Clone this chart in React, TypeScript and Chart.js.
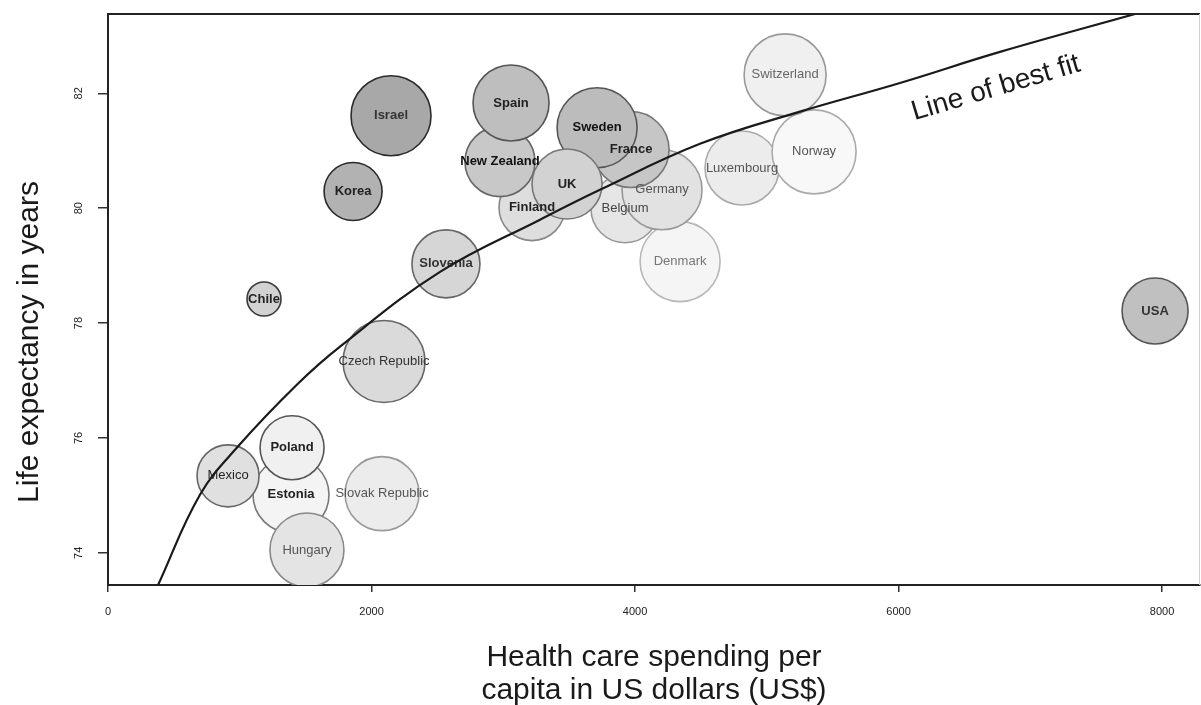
import React, { useEffect, useRef } from "react";
import { Chart, registerables } from "chart.js";

Chart.register(...registerables);

// ---- Data ----
const countries = [
  "Denmark", "Belgium", "Finland", "Germany", "Luxembourg", "Norway", "Switzerland",
  "France", "Sweden", "New Zealand", "Spain", "UK", "Israel", "Korea", "Slovenia",
  "Chile", "Czech Republic", "Slovak Republic", "Estonia", "Hungary", "Poland", "Mexico", "USA",
];
const spending = [
  4342, 3924, 3218, 4205, 4812, 5359, 5139,
  3970, 3712, 2975, 3059, 3484, 2148, 1860, 2565,
  1184, 2095, 2080, 1389, 1510, 1397, 911, 7947,
];
const lifeExpectancy = [
  79.07, 79.99, 80.01, 80.32, 80.70, 80.98, 82.32,
  81.02, 81.40, 80.81, 81.83, 80.42, 81.61, 80.29, 79.03,
  78.42, 77.33, 75.03, 75.01, 74.05, 75.83, 75.34, 78.21,
];
const bubbleSize = [
  40, 34, 33, 40, 37, 42, 41,
  38, 40, 35, 38, 35, 40, 29, 34,
  17, 41, 37, 38, 37, 32, 31, 33,
];

// line of best fit
const fitSpending = [380, 698, 986, 1435, 1761, 2520, 3279, 3734, 4493, 5252, 6011, 6770, 7795];
const fitLife = [73.44, 75.01, 75.85, 76.93, 77.59, 78.89, 79.8, 80.32, 81.12, 81.68, 82.18, 82.72, 83.38];

const xTicks = [0, 2000, 4000, 6000, 8000];
const yTicks = [74, 76, 78, 80, 82];

const xTitle = ["Health care spending per", "capita in US dollars (US$)"];
const yTitle = "Life expectancy in years";
const fitLabel = "Line of best fit";

// ---- Styles ----
const fills = [
  "#f5f5f5", "#e6e6e6", "#dedede", "#e2e2e2", "#ececec", "#f8f8f8", "#f0f0f0",
  "#c6c6c6", "#bcbcbc", "#c8c8c8", "#bebebe", "#d2d2d2", "#a8a8a8", "#b2b2b2", "#d6d6d6",
  "#d2d2d2", "#dadada", "#ececec", "#f4f4f4", "#e4e4e4", "#f0f0f0", "#e0e0e0", "#c0c0c0",
];
const borders = [
  "#b8b8b8", "#999999", "#888888", "#999999", "#aaaaaa", "#aaaaaa", "#999999",
  "#777777", "#555555", "#666666", "#555555", "#777777", "#2a2a2a", "#2a2a2a", "#666666",
  "#3a3a3a", "#666666", "#999999", "#777777", "#888888", "#555555", "#666666", "#555555",
];
const labelColors = [
  "#777777", "#444444", "#222222", "#555555", "#555555", "#555555", "#666666",
  "#222222", "#111111", "#111111", "#222222", "#222222", "#333333", "#222222", "#333333",
  "#222222", "#333333", "#555555", "#222222", "#555555", "#222222", "#222222", "#333333",
];
const labelBold = [
  false, false, true, false, false, false, false,
  true, true, true, true, true, true, true, true,
  true, false, false, true, false, true, false, true,
];

const FONT = '"Liberation Sans", Arial, sans-serif';

const annotationPlugin = {
  id: "annotations",
  afterDatasetDraw(chart: any, args: any) {
    if (args.index !== 1) return;
    const ctx = chart.ctx;
    args.meta.data.forEach((el: any, i: number) => {
      ctx.save();
      ctx.font = `${labelBold[i] ? "bold " : ""}13px ${FONT}`;
      ctx.fillStyle = labelColors[i];
      ctx.textAlign = "center";
      ctx.textBaseline = "middle";
      ctx.fillText(countries[i], el.x, el.y);
      ctx.restore();
    });
  },
  afterDraw(chart: any) {
    const { ctx, chartArea, scales } = chart;
    ctx.save();
    // top frame line
    ctx.strokeStyle = "#222222";
    ctx.lineWidth = 2;
    ctx.beginPath();
    ctx.moveTo(chartArea.left, chartArea.top);
    ctx.lineTo(chartArea.right, chartArea.top);
    ctx.stroke();
    // faint right frame line
    ctx.strokeStyle = "#d0d0d0";
    ctx.lineWidth = 1;
    ctx.beginPath();
    ctx.moveTo(chartArea.right - 0.5, chartArea.top);
    ctx.lineTo(chartArea.right - 0.5, chartArea.bottom);
    ctx.stroke();
    ctx.restore();

    // y axis title
    ctx.save();
    ctx.translate(30, 342);
    ctx.rotate(-Math.PI / 2);
    ctx.font = `30px ${FONT}`;
    ctx.fillStyle = "#1a1a1a";
    ctx.textAlign = "center";
    ctx.textBaseline = "middle";
    ctx.fillText(yTitle, 0, 0);
    ctx.restore();

    // line of best fit label
    const px = scales.x.getPixelForValue(6755);
    const py = scales.y.getPixelForValue(81.96);
    ctx.save();
    ctx.translate(px, py);
    ctx.rotate(-16.5 * Math.PI / 180);
    ctx.font = `28px ${FONT}`;
    ctx.fillStyle = "#1a1a1a";
    ctx.textAlign = "center";
    ctx.textBaseline = "alphabetic";
    ctx.fillText(fitLabel, 0, 0);
    ctx.restore();
  },
};

const zeroPadding = (s: any) => {
  s.paddingTop = 0;
  s.paddingBottom = 0;
  s.paddingLeft = 0;
  s.paddingRight = 0;
};

export default function App() {
  const canvasRef = useRef<HTMLCanvasElement | null>(null);

  useEffect(() => {
    if (!canvasRef.current) return;
    const bubbles = countries.map((_, i) => ({ x: spending[i], y: lifeExpectancy[i], r: bubbleSize[i] }));
    const fit = fitSpending.map((x, i) => ({ x, y: fitLife[i] }));

    const chart = new Chart(canvasRef.current, {
      type: "bubble",
      data: {
        datasets: [
          {
            type: "line",
            data: fit,
            borderColor: "#1a1a1a",
            borderWidth: 2.2,
            pointRadius: 0,
            fill: false,
            tension: 0.4,
            order: 0,
          } as any,
          {
            type: "bubble",
            data: bubbles,
            backgroundColor: fills,
            borderColor: borders,
            borderWidth: 1.6,
            order: 1,
          } as any,
        ],
      },
      options: {
        animation: false,
        responsive: false,
        events: [],
        layout: { autoPadding: false, padding: { top: 14, right: 1, bottom: 0, left: 0 } },
        plugins: {
          legend: { display: false },
          tooltip: { enabled: false },
        },
        scales: {
          x: {
            type: "linear",
            min: 0,
            max: 8288,
            afterBuildTicks: (s: any) => {
              s.ticks = xTicks.map((v) => ({ value: v }));
            },
            afterFit: (s: any) => {
              s.height = 120;
              zeroPadding(s);
            },
            ticks: {
              font: { size: 11, family: FONT },
              color: "#222222",
              padding: 13,
              maxRotation: 0,
              minRotation: 0,
              autoSkip: false,
              callback: (v: any) => String(v),
            },
            grid: { drawOnChartArea: false, drawTicks: true, tickLength: 7, color: "#333333", lineWidth: 1.5 },
            border: { display: true, color: "#222222", width: 2 },
            title: {
              display: true,
              text: xTitle,
              font: { size: 30, family: FONT, lineHeight: 1.12 },
              color: "#1a1a1a",
              padding: { top: 0, bottom: -3 },
            },
          },
          y: {
            type: "linear",
            min: 73.44,
            max: 83.38,
            afterBuildTicks: (s: any) => {
              s.ticks = yTicks.map((v) => ({ value: v }));
            },
            afterFit: (s: any) => {
              s.width = 108;
              zeroPadding(s);
            },
            ticks: {
              font: { size: 11, family: FONT },
              color: "#222222",
              padding: 13,
              minRotation: 90,
              maxRotation: 90,
              crossAlign: "center",
              autoSkip: false,
              callback: (v: any) => String(v),
            },
            grid: { drawOnChartArea: false, drawTicks: true, tickLength: 10, color: "#333333", lineWidth: 1.5 },
            border: { display: true, color: "#222222", width: 2 },
          },
        },
      },
      plugins: [annotationPlugin],
    } as any);

    return () => chart.destroy();
  }, []);

  return (
    <div style={{ position: "absolute", left: 0, top: 0, width: 1201, height: 705, background: "#ffffff" }}>
      <canvas ref={canvasRef} width={1201} height={705} style={{ display: "block" }} />
    </div>
  );
}
